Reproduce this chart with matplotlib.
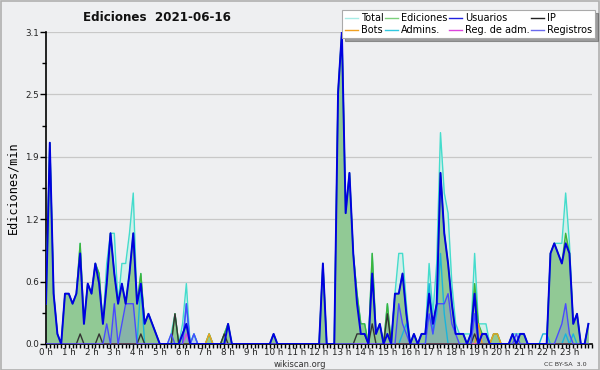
import matplotlib
matplotlib.use("Agg")
import matplotlib.pyplot as plt
import numpy as np
from matplotlib.lines import Line2D

# 10-minute buckets (edits per minute), 6 values per hour
usuarios = [
    0.4, 2.0, 0.5, 0.1, 0.0, 0.5,
    0.5, 0.4, 0.5, 0.9, 0.2, 0.6,
    0.5, 0.8, 0.6, 0.2, 0.6, 1.1,
    0.7, 0.4, 0.6, 0.4, 0.7, 1.1,
    0.4, 0.6, 0.2, 0.3, 0.2, 0.1,
    0.0, 0.0, 0.0, 0.0, 0.0, 0.0,
    0.1, 0.2, 0.0, 0.0, 0.0, 0.0,
    0.0, 0.0, 0.0, 0.0, 0.0, 0.0,
    0.2, 0.0, 0.0, 0.0, 0.0, 0.0,
    0.0, 0.0, 0.0, 0.0, 0.0, 0.0,
    0.1, 0.0, 0.0, 0.0, 0.0, 0.0,
    0.0, 0.0, 0.0, 0.0, 0.0, 0.0,
    0.0, 0.8, 0.0, 0.0, 0.0, 2.5,
    3.1, 1.3, 1.7, 0.9, 0.4, 0.1,
    0.1, 0.0, 0.7, 0.1, 0.2, 0.0,
    0.1, 0.0, 0.5, 0.5, 0.7, 0.3,
    0.0, 0.1, 0.0, 0.1, 0.1, 0.5,
    0.2, 0.4, 1.7, 1.1, 0.8, 0.4,
    0.1, 0.1, 0.1, 0.0, 0.1, 0.5,
    0.0, 0.1, 0.1, 0.0, 0.0, 0.0,
    0.0, 0.0, 0.0, 0.1, 0.0, 0.1,
    0.1, 0.0, 0.0, 0.0, 0.0, 0.0,
    0.0, 0.9, 1.0, 0.9, 0.8, 1.0,
    0.9, 0.2, 0.3, 0.0, 0.0, 0.2,
]

ediciones = [
    0.4, 2.0, 0.5, 0.1, 0.0, 0.5,
    0.5, 0.4, 0.5, 1.0, 0.2, 0.6,
    0.5, 0.8, 0.7, 0.2, 0.6, 1.1,
    0.7, 0.4, 0.6, 0.4, 0.7, 1.1,
    0.4, 0.7, 0.2, 0.3, 0.2, 0.1,
    0.0, 0.0, 0.0, 0.0, 0.3, 0.0,
    0.1, 0.2, 0.0, 0.0, 0.0, 0.0,
    0.0, 0.1, 0.0, 0.0, 0.0, 0.1,
    0.2, 0.0, 0.0, 0.0, 0.0, 0.0,
    0.0, 0.0, 0.0, 0.0, 0.0, 0.0,
    0.1, 0.0, 0.0, 0.0, 0.0, 0.0,
    0.0, 0.0, 0.0, 0.0, 0.0, 0.0,
    0.0, 0.8, 0.0, 0.0, 0.0, 2.5,
    3.1, 1.3, 1.7, 0.9, 0.5, 0.2,
    0.2, 0.0, 0.9, 0.1, 0.2, 0.0,
    0.4, 0.0, 0.5, 0.5, 0.7, 0.3,
    0.0, 0.1, 0.0, 0.1, 0.1, 0.5,
    0.2, 0.4, 1.7, 1.1, 0.8, 0.4,
    0.1, 0.1, 0.1, 0.0, 0.1, 0.6,
    0.2, 0.1, 0.1, 0.0, 0.1, 0.1,
    0.0, 0.0, 0.0, 0.1, 0.0, 0.1,
    0.1, 0.0, 0.0, 0.0, 0.0, 0.0,
    0.0, 0.9, 1.0, 0.9, 0.8, 1.1,
    0.9, 0.2, 0.3, 0.0, 0.0, 0.2,
]

total = [
    0.4, 2.0, 0.5, 0.1, 0.0, 0.5,
    0.5, 0.4, 0.5, 1.0, 0.2, 0.6,
    0.5, 0.8, 0.7, 0.2, 0.8, 1.1,
    1.1, 0.4, 0.8, 0.8, 1.1, 1.5,
    0.4, 0.7, 0.2, 0.3, 0.2, 0.1,
    0.0, 0.0, 0.0, 0.1, 0.3, 0.0,
    0.2, 0.6, 0.0, 0.1, 0.0, 0.0,
    0.0, 0.1, 0.0, 0.0, 0.0, 0.1,
    0.2, 0.0, 0.0, 0.0, 0.0, 0.0,
    0.0, 0.0, 0.0, 0.0, 0.0, 0.0,
    0.1, 0.0, 0.0, 0.0, 0.0, 0.0,
    0.0, 0.0, 0.0, 0.0, 0.0, 0.0,
    0.0, 0.8, 0.0, 0.0, 0.0, 2.5,
    3.1, 1.3, 1.7, 0.9, 0.5, 0.2,
    0.2, 0.0, 0.9, 0.1, 0.2, 0.0,
    0.4, 0.0, 0.5, 0.9, 0.9, 0.4,
    0.0, 0.1, 0.0, 0.1, 0.1, 0.8,
    0.3, 0.8, 2.1, 1.5, 1.3, 0.6,
    0.2, 0.1, 0.1, 0.1, 0.1, 0.9,
    0.2, 0.2, 0.2, 0.0, 0.1, 0.1,
    0.0, 0.0, 0.0, 0.1, 0.1, 0.1,
    0.1, 0.0, 0.0, 0.0, 0.0, 0.0,
    0.0, 0.9, 1.0, 1.0, 1.0, 1.5,
    1.0, 0.2, 0.3, 0.0, 0.0, 0.2,
]

ip = [0.0] * 144
for k, v in {9: 0.1, 14: 0.1, 25: 0.1, 34: 0.3, 47: 0.1, 82: 0.1, 83: 0.1,
             84: 0.1, 86: 0.2, 90: 0.3, 113: 0.1}.items():
    ip[k] = v

registros = [0.0] * 144
for k, v in {16: 0.2, 18: 0.4, 20: 0.2, 21: 0.4, 22: 0.4, 23: 0.4, 33: 0.1,
             37: 0.4, 39: 0.1, 93: 0.4, 94: 0.2, 95: 0.1, 101: 0.3, 102: 0.1,
             103: 0.4, 104: 0.4, 105: 0.4, 106: 0.5, 107: 0.2, 108: 0.1,
             113: 0.3, 115: 0.1, 116: 0.1, 124: 0.1, 135: 0.1, 136: 0.2,
             137: 0.4, 138: 0.1}.items():
    registros[k] = v

admins = [0.0] * 144
for k, v in {25: 0.6, 37: 0.4, 39: 0.1, 94: 0.1, 95: 0.2, 101: 0.6, 102: 0.1,
             103: 0.3, 104: 0.9, 105: 0.3, 113: 0.3, 131: 0.1, 132: 0.1,
             137: 0.1, 139: 0.1}.items():
    admins[k] = v

bots = [0.0] * 144
for k, v in {43: 0.1, 114: 0.2, 118: 0.1, 119: 0.1}.items():
    bots[k] = v

reg_adm = [0.0] * 144
reg_adm[37] = 0.1

hour_labels = [f"{h} h" for h in range(24)]
ytick_vals = [0.0, 0.62, 1.24, 1.86, 2.48, 3.1]
ytick_labels = ["0.0", "0.6", "1.2", "1.9", "2.5", "3.1"]

BG = "#eeeff1"
t = np.arange(144) / 6.0

fig = plt.figure(figsize=(6, 3.7), dpi=100, facecolor=BG)
ax = fig.add_axes([0.0767, 0.0703, 0.9103, 0.8432])
ax.set_facecolor(BG)

ax.fill_between(t, total, color="#d2efea", lw=0, zorder=1)
ax.fill_between(t, ediciones, color="#91c995", lw=0, zorder=2)
ax.fill_between(t, registros, color="#5a5aff", alpha=0.18, lw=0, zorder=3)

ax.plot(t, total, color="#44dccc", lw=1.0, zorder=4)
ax.plot(t, ediciones, color="#3cb43c", lw=1.0, zorder=5)
ax.plot(t, admins, color="#1ab4dc", lw=1.0, zorder=6)
ax.plot(t, bots, color="#f0a020", lw=1.0, zorder=6)
ax.plot(t, reg_adm, color="#dd44dd", lw=1.0, zorder=6)
ax.plot(t, ip, color="#333333", lw=1.0, zorder=7)
ax.plot(t, registros, color="#4a4aff", lw=1.0, zorder=7)
ax.plot(t, usuarios, color="#0000e0", lw=1.4, zorder=8)

ax.set_xlim(0, 24)
ax.set_ylim(0, 3.1)
ax.set_yticks(ytick_vals)
ax.set_yticklabels(ytick_labels)
ax.set_yticks([0.31, 0.93, 1.55, 2.17, 2.79], minor=True)
ax.set_xticks(range(24))
ax.set_xticklabels(hour_labels)
ax.set_xticks(np.arange(0, 24.01, 1 / 6), minor=True)
ax.grid(axis="y", color="#c8c8c8", lw=0.9, zorder=0)
ax.set_axisbelow(True)
for s in ["top", "right"]:
    ax.spines[s].set_visible(False)
ax.spines["left"].set_linewidth(1.2)
ax.spines["bottom"].set_linewidth(1.2)
ax.tick_params(axis="both", which="major", length=4, width=1, labelsize=6.3,
               labelcolor="#222222", pad=1)
ax.tick_params(axis="x", which="major", length=3, pad=0)
ax.tick_params(axis="both", which="minor", length=3, width=1)
ax.set_ylabel("Ediciones/min", family="DejaVu Sans Mono", fontsize=8.5, labelpad=4)

fig.text(0.262, 0.952, "Ediciones  2021-06-16", ha="center", va="center",
         fontsize=8.6, fontweight="bold", color="#111111")
fig.text(0.5, 0.014, "wikiscan.org", ha="center", va="center", fontsize=6.0,
         color="#333333")
fig.text(0.978, 0.016, "CC BY-SA  3.0", ha="right", va="center", fontsize=4.6,
         color="#333333")

handles = [
    Line2D([], [], color="#a8ece6", lw=1), Line2D([], [], color="#f0a020", lw=1),
    Line2D([], [], color="#7cd07c", lw=1), Line2D([], [], color="#30c8e0", lw=1),
    Line2D([], [], color="#2020e0", lw=1), Line2D([], [], color="#dd44dd", lw=1),
    Line2D([], [], color="#222222", lw=1), Line2D([], [], color="#6a6aee", lw=1),
]
labels = ["Total", "Bots", "Ediciones", "Admins.", "Usuarios", "Reg. de adm.",
          "IP", "Registros"]
leg = fig.legend(handles, labels, ncol=4, loc="upper right",
                 bbox_to_anchor=(0.993, 0.975), fontsize=7, frameon=True,
                 fancybox=False, shadow=True, handlelength=1.3,
                 handletextpad=0.3, columnspacing=0.2, labelspacing=0.2,
                 borderpad=0.3, borderaxespad=0.1)
leg.get_frame().set_edgecolor("#aaaaaa")
leg.get_frame().set_linewidth(0.8)
leg.set_zorder(20)

border = plt.Rectangle((0.001, 0.001), 0.998, 0.997, transform=fig.transFigure,
                       fill=False, edgecolor="#b0b0b0", lw=1.2)
fig.patches.append(border)

fig.savefig("out.png", dpi=100, facecolor=BG)
